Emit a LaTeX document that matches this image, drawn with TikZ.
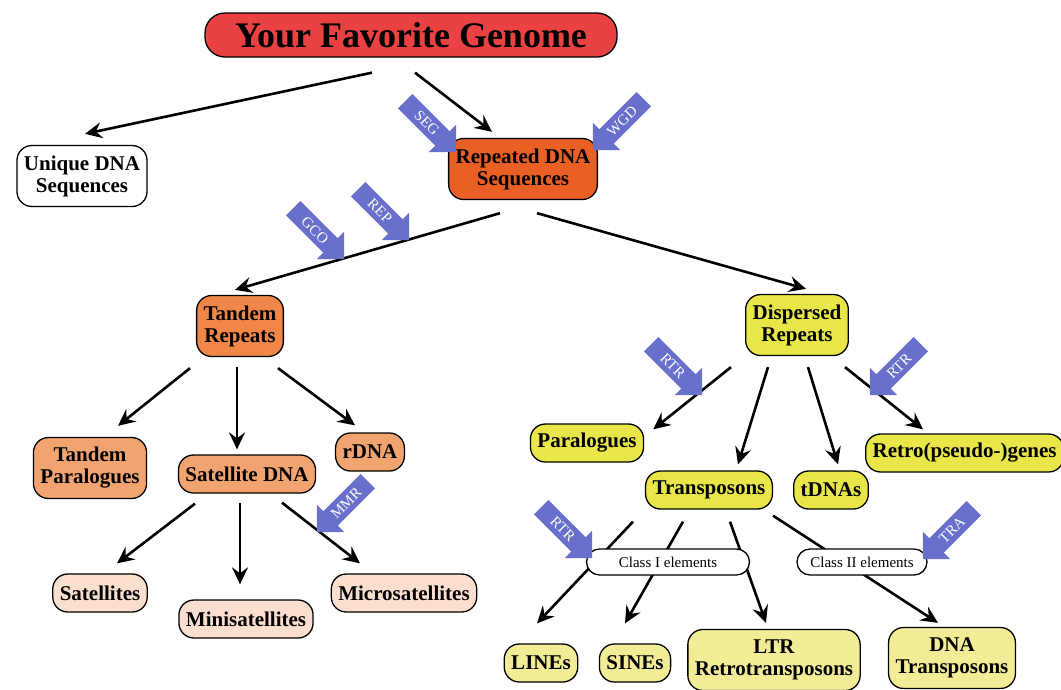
\documentclass[tikz,border=0pt]{standalone}
\usepackage{fontspec}
\setmainfont{Liberation Serif}
\usepackage{tikz}
\usetikzlibrary{arrows.meta,shapes.arrows}
\usepackage{xcolor}
\definecolor{titleRed}{RGB}{234,66,66}
\definecolor{repOrange}{RGB}{234,96,36}
\definecolor{tandOrange}{RGB}{240,134,72}
\definecolor{lightOrange}{RGB}{242,164,112}
\definecolor{peach}{RGB}{250,222,206}
\definecolor{dispYellow}{RGB}{232,230,72}
\definecolor{paleYellow}{RGB}{242,236,150}
\definecolor{mechBlue}{RGB}{104,112,204}

\begin{document}
\begin{tikzpicture}[x=1pt, y=-1pt,
    boxStyle/.style={rectangle, rounded corners=15pt, draw=black, line width=1.3pt, font=\fontsize{21}{22}\selectfont\bfseries, align=center, inner xsep=7pt, inner ysep=3pt, minimum height=38pt},
    twoStyle/.style={boxStyle, minimum height=61pt},
    classStyle/.style={rectangle, rounded corners=13pt, draw=black, line width=1.3pt, fill=white, font=\fontsize{15}{15}\selectfont, inner sep=2pt, minimum height=26pt},
    mechStyle/.style={single arrow, fill=mechBlue, draw=none, text=white, font=\fontsize{15}{15}\selectfont, text height=11pt, text depth=1pt, minimum height=72pt, single arrow head extend=9pt, inner xsep=3pt, inner ysep=4pt},
    flipStyle/.style={mechStyle, shape border rotate=180, rotate=45},
    arrowStyle/.style={-{Stealth[length=17pt, width=16pt, inset=6pt]}, line width=2.6pt}
]
    \useasboundingbox (0,0) rectangle (1061,689);

    \node[boxStyle, fill=titleRed, rounded corners=20pt, minimum width=412pt, minimum height=44pt, font=\fontsize{36}{36}\selectfont\bfseries] (title) at (411,35) {Your Favorite Genome};

    \node[twoStyle, fill=white] (uniq) at (82,176) {Unique DNA\\Sequences};
    \node[twoStyle, fill=repOrange] (rep) at (523,169) {Repeated DNA\\Sequences};

    \node[twoStyle, fill=tandOrange] (tandem) at (240,326) {Tandem\\Repeats};
    \node[twoStyle, fill=dispYellow] (disp) at (797,325) {Dispersed\\Repeats};

    \node[twoStyle, fill=lightOrange] (tpara) at (90,468) {Tandem\\Paralogues};
    \node[boxStyle, fill=lightOrange] (satdna) at (247,474) {Satellite DNA};
    \node[boxStyle, fill=lightOrange] (rdna) at (370,452) {rDNA};

    \node[boxStyle, fill=peach] (sats) at (100,593) {Satellites};
    \node[boxStyle, fill=peach] (mini) at (246,619) {Minisatellites};
    \node[boxStyle, fill=peach] (micro) at (404,593) {Microsatellites};

    \node[boxStyle, fill=dispYellow] (para) at (587,443) {Paralogues};
    \node[boxStyle, fill=dispYellow] (trans) at (709,490) {Transposons};
    \node[boxStyle, fill=dispYellow] (tdna) at (831,490) {tDNAs};
    \node[boxStyle, fill=dispYellow, anchor=west] (retro) at (865,453) {Retro(pseudo-)genes};

    \node[boxStyle, fill=paleYellow] (lines) at (541,663) {LINEs};
    \node[boxStyle, fill=paleYellow] (sines) at (635,663) {SINEs};
    \node[twoStyle, fill=paleYellow] (ltr) at (774,660) {LTR\\Retrotransposons};
    \node[twoStyle, fill=paleYellow] (dnat) at (952,658) {DNA\\Transposons};

    % tree arrows
    \draw[arrowStyle] ([shift={(-39,15)}]title.south) -- ([shift={(3,-11)}]uniq.north);
    \draw[arrowStyle] ([shift={(4,15)}]title.south) -- ([shift={(-31,-6)}]rep.north);
    \draw[arrowStyle] ([shift={(-23,13)}]rep.south) -- ([shift={(-5,-5)}]tandem.north);
    \draw[arrowStyle] ([shift={(14,13)}]rep.south) -- ([shift={(9,-5)}]disp.north);

    \draw[arrowStyle] ([shift={(-50,11)}]tandem.south) -- ([shift={(28,-11)}]tpara.north);
    \draw[arrowStyle] ([shift={(-3,10)}]tandem.south) -- ([shift={(-10,-5)}]satdna.north);
    \draw[arrowStyle] ([shift={(38,11)}]tandem.south) -- ([shift={(-15,-7)}]rdna.north);

    \draw[arrowStyle] ([shift={(-52,10)}]satdna.south) -- ([shift={(17,-10)}]sats.north);
    \draw[arrowStyle] ([shift={(-7,9)}]satdna.south) -- ([shift={(-6,-15)}]mini.north);
    \draw[arrowStyle] ([shift={(35,9)}]satdna.south) -- ([shift={(-44,-10)}]micro.north);

    \draw[arrowStyle] ([shift={(-66,11)}]disp.south) -- ([shift={(9,6)}]para.north east);
    \draw[arrowStyle] ([shift={(-29,11)}]disp.south) -- ([shift={(29,-6)}]trans.north);
    \draw[arrowStyle] ([shift={(11,11)}]disp.south) -- ([shift={(7,-6)}]tdna.north);
    \draw[arrowStyle] ([shift={(48,11)}]disp.south) -- ([shift={(58,-4)}]retro.north west);

    \draw[arrowStyle] ([shift={(-76,12)}]trans.south) -- ([shift={(-4,-20)}]lines.north);
    \draw[arrowStyle] ([shift={(-26,12)}]trans.south) -- ([shift={(-10,-20)}]sines.north);
    \draw[arrowStyle] ([shift={(21,12)}]trans.south) -- ([shift={(-8,-6)}]ltr.north);
    \draw[arrowStyle] ([shift={(64,6)}]trans.south) -- ([shift={(-14,-4)}]dnat.north);

    \node[classStyle, minimum width=163pt] (class1) at (668,562) {Class I elements};
    \node[classStyle, minimum width=130pt] (class2) at (862,562) {Class II elements};

    % mechanism arrows
    \node[mechStyle, rotate=-45] (seg) at (427,123) {SEG};
    \node[flipStyle] (wgd) at (622,121) {WGD};
    \node[mechStyle, rotate=-45] (gco) at (315,230) {GCO};
    \node[mechStyle, rotate=-45] (repm) at (380,211) {REP};
    \node[flipStyle] (mmr) at (346,503) {MMR};
    \node[mechStyle, rotate=-45] (rtra) at (673,366) {RTR};
    \node[flipStyle] (rtrb) at (899,366) {RTR};
    \node[mechStyle, rotate=-45] (rtrc) at (563,529) {RTR};
    \node[flipStyle] (tra) at (952,530) {TRA};
\end{tikzpicture}
\end{document}
